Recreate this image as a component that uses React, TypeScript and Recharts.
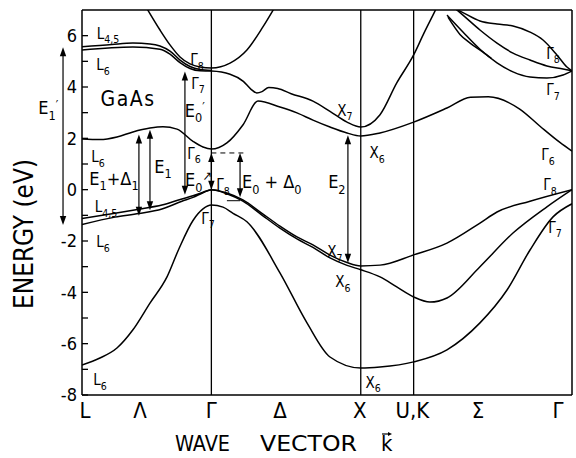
import React from 'react';
import { LineChart, Line, XAxis, YAxis, ReferenceLine, ReferenceDot } from 'recharts';

const FONT = "'DejaVu Sans Condensed', 'DejaVu Sans', sans-serif";

// Path through the Brillouin zone: k in units of 2π/a, measured from L
const K_MIN = 0;
const K_MAX = 3.28;
const symmetryLines = [0.866, 1.866, 2.22]; // Γ, X, U/K
const E_MIN = -8;
const E_MAX = 7;

const xTickValues = [0.02, 0.388, 0.866, 1.325, 1.86, 2.212, 2.65, 3.226];
const xTickLabels = ['L', 'Λ', 'Γ', 'Δ', 'X', 'U,K', 'Σ', 'Γ'];
const yTickValues = [-8, -7, -6, -5, -4, -3, -2, -1, 0, 1, 2, 3, 4, 5, 6];

type Pt = [number, number];
type Pt3 = [number, number, number];

// Valence bands
const bandV1: Pt[] = [[0, -6.83], [0.12, -6.56], [0.234, -6.17], [0.341, -5.46], [0.455, -4.42], [0.569, -3.4], [0.649, -2.3], [0.743, -1.2], [0.81, -0.75], [0.866, -0.6], [0.944, -0.68], [1.011, -0.92], [1.104, -1.25], [1.325, -3.24], [1.506, -5.19], [1.66, -6.52], [1.866, -6.95], [1.995, -6.91], [2.22, -6.71], [2.443, -6.24], [2.664, -5.19], [2.845, -3.91], [2.999, -2.35], [3.153, -1.06], [3.28, -0.55]];
const bandV2: Pt[] = [[0, -1.12], [0.221, -0.92], [0.381, -0.76], [0.535, -0.6], [0.669, -0.36], [0.743, -0.24], [0.81, -0.1], [0.866, 0], [0.97, -0.13], [1.077, -0.4], [1.2, -0.9], [1.325, -1.42], [1.439, -1.84], [1.546, -2.15], [1.66, -2.55], [1.774, -2.84], [1.866, -2.97], [1.995, -2.94], [2.22, -2.54], [2.443, -2.08], [2.664, -1.3], [2.778, -0.87], [2.999, -0.45], [3.28, 0]];
const bandV3: Pt[] = [[0, -1.36], [0.221, -1.07], [0.381, -0.93], [0.535, -0.75], [0.669, -0.45], [0.743, -0.3], [0.81, -0.12], [0.866, 0], [0.97, -0.16], [1.077, -0.45], [1.2, -0.97], [1.325, -1.5], [1.439, -1.92], [1.546, -2.25], [1.66, -2.66], [1.774, -2.95], [1.866, -3.12], [1.995, -3.4], [2.107, -3.79], [2.22, -4.18], [2.329, -4.38], [2.443, -4.22], [2.664, -3.0], [2.885, -1.69], [3.112, -0.67], [3.28, 0]];

// Conduction bands
const bandC1: Pt[] = [[0, 1.97], [0.12, 1.95], [0.234, 2.05], [0.341, 2.25], [0.455, 2.4], [0.542, 2.45], [0.636, 2.36], [0.743, 1.88], [0.81, 1.66], [0.866, 1.58], [0.97, 1.82], [1.077, 2.52], [1.178, 3.45], [1.325, 3.22], [1.439, 2.99], [1.546, 2.71], [1.66, 2.44], [1.774, 2.21], [1.866, 2.09], [1.995, 2.21], [2.22, 2.63], [2.443, 3.18], [2.6, 3.6], [2.72, 3.62], [2.93, 3.14], [3.066, 2.47], [3.199, 1.84], [3.28, 1.5]];
const bandC2: Pt[] = [[0, 5.44], [0.341, 5.56], [0.522, 5.47], [0.589, 5.28], [0.656, 4.95], [0.723, 4.72], [0.79, 4.63], [0.866, 4.62], [0.991, 4.5], [1.08, 4.22], [1.13, 3.92], [1.17, 3.77], [1.205, 3.82], [1.25, 3.98], [1.31, 3.94], [1.4, 3.74], [1.546, 3.45], [1.66, 3.05], [1.774, 2.63], [1.866, 2.44], [1.995, 2.92], [2.107, 4.16], [2.22, 5.25], [2.289, 6.1], [2.356, 6.88], [2.4, 7.4]];
const bandC3: Pt[] = [[0, 5.57], [0.2, 5.66], [0.341, 5.71], [0.455, 5.68], [0.522, 5.6], [0.589, 5.4], [0.656, 5.05], [0.723, 4.8], [0.79, 4.68], [0.866, 4.64]];
const bandC4: Pt[] = [[0.42, 7.2], [0.522, 6.22], [0.589, 5.64], [0.656, 5.17], [0.723, 4.9], [0.79, 4.78], [0.866, 4.74], [0.991, 4.93], [1.104, 5.44], [1.211, 6.34], [1.3, 7.2]];
const bandS1: Pt[] = [[2.48, 7.1], [2.55, 6.9], [2.664, 6.57], [2.778, 6.45], [2.885, 6.38], [2.999, 6.14], [3.086, 5.83], [3.179, 5.25], [3.246, 4.78], [3.28, 4.63]];
const bandS2: Pt[] = [[2.49, 7.1], [2.55, 6.8], [2.664, 6.22], [2.778, 5.71], [2.885, 5.32], [2.999, 5.05], [3.112, 4.82], [3.22, 4.7], [3.28, 4.63]];
const bandS3: Pt[] = [[2.443, 6.8], [2.55, 6.14], [2.664, 5.47], [2.778, 4.94], [2.885, 4.59], [2.999, 4.39], [3.112, 4.35], [3.22, 4.47], [3.28, 4.63]];
const bandS4: Pt[] = [[2.45, 6.72], [2.53, 6.05], [2.6, 5.7], [2.684, 5.36], [2.74, 5.12]];

const bands: Pt[][] = [bandV1, bandV2, bandV3, bandC1, bandC2, bandC3, bandC4, bandS1, bandS2, bandS3, bandS4];

// Transition arrows: [k, upper E, lower E]
const arrows: Pt3[] = [
  [-0.127, 5.55, -1.38],
  [0.381, 2.15, -1.02],
  [0.455, 2.33, -0.8],
  [0.689, 4.6, -0.2],
  [0.866, 1.43, 0],
  [1.058, 1.43, -0.3],
  [1.78, 2.12, -2.85],
];

// Label texts with positions [k, E]
const transitionLabels: { k: number; e: number; text: string }[] = [
  { k: -0.225, e: 3.2, text: 'E_1^′' },
  { k: 0.214, e: 0.45, text: 'E_1+Δ_1' },
  { k: 0.542, e: 0.92, text: 'E_1' },
  { k: 0.755, e: 3.1, text: 'E_0^′' },
  { k: 0.78, e: 0.4, text: 'E_0^↗' },
  { k: 1.27, e: 0.3, text: 'E_0 + Δ_0' },
  { k: 1.706, e: 0.3, text: 'E_2' },
];
const pointLabels: { k: number; e: number; text: string }[] = [
  { k: 0.174, e: 6.1, text: 'L_{4,5}' },
  { k: 0.14, e: 4.86, text: 'L_6' },
  { k: 0.107, e: 1.27, text: 'L_6' },
  { k: 0.16, e: -0.67, text: 'L_{4,5}' },
  { k: 0.14, e: -2.04, text: 'L_6' },
  { k: 0.12, e: -7.41, text: 'L_6' },
  { k: 0.77, e: 5.05, text: 'Γ_8' },
  { k: 0.776, e: 4.15, text: 'Γ_7' },
  { k: 0.75, e: 1.42, text: 'Γ_6' },
  { k: 0.944, e: 0.18, text: 'Γ_8' },
  { k: 0.843, e: -1.11, text: 'Γ_7' },
  { k: 1.76, e: 3.1, text: 'X_7' },
  { k: 1.975, e: 1.43, text: 'X_6' },
  { k: 1.693, e: -2.43, text: 'X_7' },
  { k: 1.747, e: -3.6, text: 'X_6' },
  { k: 1.948, e: -7.5, text: 'X_6' },
  { k: 3.153, e: 5.32, text: 'Γ_8' },
  { k: 3.153, e: 3.88, text: 'Γ_7' },
  { k: 3.119, e: 1.35, text: 'Γ_6' },
  { k: 3.133, e: 0.18, text: 'Γ_8' },
  { k: 3.166, e: -1.46, text: 'Γ_7' },
];
const materialLabel = { k: 0.308, e: 3.57, text: 'GaAs' };
const dashedLevel = { k1: 0.866, k2: 1.09, e: 1.43 };
const soLevel = { k1: 0.97, k2: 1.058, e: -0.43 };

type Part = { t: string; kind: 'n' | 'sub' | 'sup' };
function parseRich(s: string): Part[] {
  const parts: Part[] = [];
  const re = /_\{([^}]*)\}|_(.)|\^\{([^}]*)\}|\^(.)/g;
  let last = 0;
  let m: RegExpExecArray | null;
  while ((m = re.exec(s))) {
    if (m.index > last) parts.push({ t: s.slice(last, m.index), kind: 'n' });
    if (m[1] !== undefined || m[2] !== undefined) parts.push({ t: (m[1] ?? m[2]) as string, kind: 'sub' });
    else parts.push({ t: (m[3] ?? m[4]) as string, kind: 'sup' });
    last = re.lastIndex;
  }
  if (last < s.length) parts.push({ t: s.slice(last), kind: 'n' });
  return parts;
}

function RichText({ x, y, text, size, spacing = 0 }: { x: number; y: number; text: string; size: number; spacing?: number }) {
  const parts = parseRich(text);
  let cur = 0;
  const spans = parts.map((p, i) => {
    const target = p.kind === 'sub' ? size * 0.32 : p.kind === 'sup' ? -size * 0.3 : 0;
    const dy = target - cur;
    cur = target;
    return (
      <tspan key={i} dy={dy} fontSize={p.kind === 'n' ? size : size * 0.7}>
        {p.t}
      </tspan>
    );
  });
  return (
    <text x={x} y={y + size * 0.36} textAnchor="middle" fontSize={size} fontFamily={FONT} fill="#000" letterSpacing={spacing} style={{ whiteSpace: 'pre' }}>
      {spans}
    </text>
  );
}

const arrowShape = (p: any) => {
  const { x1, y1, y2 } = p;
  const top = Math.min(y1, y2);
  const bot = Math.max(y1, y2);
  const hl = 9;
  const hw = 3.2;
  return (
    <g>
      <line x1={x1} x2={x1} y1={top + hl - 1} y2={bot - hl + 1} stroke="#000" strokeWidth={1.2} />
      <polygon points={`${x1},${top} ${x1 - hw},${top + hl} ${x1 + hw},${top + hl}`} fill="#000" />
      <polygon points={`${x1},${bot} ${x1 - hw},${bot - hl} ${x1 + hw},${bot - hl}`} fill="#000" />
    </g>
  );
};

const YTick = (props: any) => {
  const { x, y, payload } = props;
  const v = payload.value as number;
  return (
    <g>
      <line x1={x} x2={x + 6} y1={y} y2={y} stroke="#000" strokeWidth={1.3} />
      {v % 2 === 0 && (
        <text x={x - 5} y={y} dy="0.36em" textAnchor="end" fontSize={18} fontFamily={FONT} fill="#000">
          {v < 0 ? `-${-v}` : `${v}`}
        </text>
      )}
    </g>
  );
};

const XTick = (props: any) => {
  const { x, y, index } = props;
  return (
    <text x={x} y={y + 23} textAnchor="middle" fontSize={22} fontFamily={FONT} fill="#000">
      {xTickLabels[index]}
    </text>
  );
};

const XTitle = () => (
  <g>
    <text x={175} y={451} fontSize={22} fontFamily={FONT} textLength={55} lengthAdjust="spacingAndGlyphs" fill="#000">WAVE</text>
    <text x={260} y={451} fontSize={22} fontFamily={FONT} textLength={97} lengthAdjust="spacingAndGlyphs" fill="#000">VECTOR</text>
    <text x={381} y={451} fontSize={22} fontFamily={FONT} fill="#000">k</text>
    <line x1={382} x2={390} y1={434} y2={434} stroke="#000" strokeWidth={1.2} />
    <polygon points="392,434 388,432 388,436" fill="#000" />
  </g>
);

const YTitle = () => (
  <text transform="translate(33,234) rotate(-90)" textAnchor="middle" fontSize={27} fontFamily={FONT} textLength={150} lengthAdjust="spacingAndGlyphs" fill="#000">
    ENERGY (eV)
  </text>
);

export default function App() {
  return (
    <div style={{ position: 'absolute', left: 0, top: 0, background: '#fff' }}>
      <LineChart width={576} height={458} margin={{ top: 10, right: 4, bottom: 0, left: 0 }}>
        <XAxis
          type="number"
          dataKey="k"
          domain={[K_MIN, K_MAX]}
          allowDataOverflow
          ticks={xTickValues}
          tick={<XTick />}
          tickLine={false}
          tickSize={0}
          tickMargin={0}
          height={63}
          axisLine={{ stroke: '#000', strokeWidth: 1.5 }}
          label={<XTitle />}
        />
        <YAxis
          type="number"
          domain={[E_MIN, E_MAX]}
          allowDataOverflow
          ticks={yTickValues}
          tick={<YTick />}
          tickLine={false}
          tickSize={0}
          tickMargin={0}
          width={82}
          interval={0}
          axisLine={{ stroke: '#000', strokeWidth: 1.5 }}
          label={<YTitle />}
        />
        <ReferenceLine y={E_MAX} stroke="#000" strokeWidth={1.5} />
        <ReferenceLine x={K_MAX} stroke="#000" strokeWidth={1.5} />
        {symmetryLines.map((k, i) => (
          <ReferenceLine key={`s${i}`} x={k} stroke="#000" strokeWidth={1.3} />
        ))}
        {bands.map((b, i) => (
          <Line
            key={`b${i}`}
            data={b.map(([k, e]) => ({ k, e }))}
            dataKey="e"
            type="monotone"
            stroke="#000"
            strokeWidth={1.5}
            dot={false}
            activeDot={false}
            isAnimationActive={false}
          />
        ))}
        <ReferenceLine
          segment={[{ x: dashedLevel.k1, y: dashedLevel.e }, { x: dashedLevel.k2, y: dashedLevel.e }]}
          stroke="#000"
          strokeWidth={1}
          strokeDasharray="5 4"
          ifOverflow="visible"
        />
        <ReferenceLine
          segment={[{ x: soLevel.k1, y: soLevel.e }, { x: soLevel.k2, y: soLevel.e }]}
          stroke="#000"
          strokeWidth={1}
          ifOverflow="visible"
        />
        {arrows.map(([k, e1, e2], i) => (
          <ReferenceLine
            key={`a${i}`}
            segment={[{ x: k, y: e1 }, { x: k, y: e2 }]}
            ifOverflow="visible"
            shape={arrowShape}
          />
        ))}
        {transitionLabels.map((l, i) => (
          <ReferenceDot
            key={`t${i}`}
            x={l.k}
            y={l.e}
            r={0}
            ifOverflow="visible"
            shape={(p: any) => <RichText x={p.cx} y={p.cy} text={l.text} size={18} />}
          />
        ))}
        {pointLabels.map((l, i) => (
          <ReferenceDot
            key={`p${i}`}
            x={l.k}
            y={l.e}
            r={0}
            ifOverflow="visible"
            shape={(p: any) => <RichText x={p.cx} y={p.cy} text={l.text} size={15} />}
          />
        ))}
        <ReferenceDot
          x={materialLabel.k}
          y={materialLabel.e}
          r={0}
          ifOverflow="visible"
          shape={(p: any) => <RichText x={p.cx} y={p.cy} text={materialLabel.text} size={21} spacing={1.5} />}
        />
      </LineChart>
    </div>
  );
}
